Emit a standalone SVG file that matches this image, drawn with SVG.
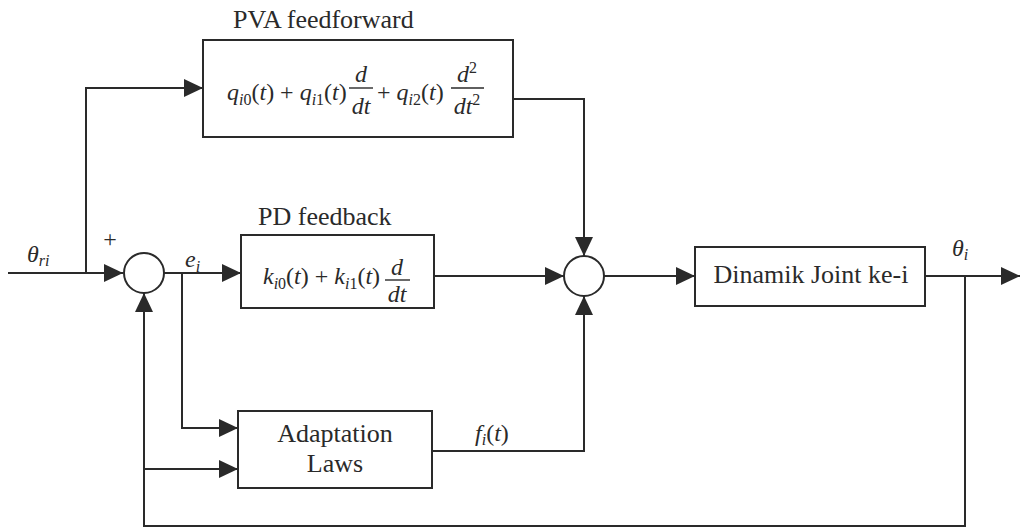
<svg xmlns="http://www.w3.org/2000/svg" width="1021" height="528" viewBox="0 0 1021 528">
<defs>
<style>
.box{fill:#fff;stroke:#2a2a2a;stroke-width:2}
.ln{fill:none;stroke:#2a2a2a;stroke-width:2}
.fr{stroke:#2a2a2a;stroke-width:1.4}
.t{font-family:"Liberation Serif","Times New Roman",serif;fill:#2a2a2a}
.lbl{font-size:26px}
.m{font-size:24px}
.i{font-style:italic}
.s{font-size:16px}
</style>
<marker id="ah" markerUnits="userSpaceOnUse" markerWidth="19" markerHeight="18" refX="19" refY="9" orient="auto">
<path d="M0,0 L19,9 L0,18 z" fill="#2a2a2a"/>
</marker>
</defs>
<rect width="1021" height="528" fill="#fff"/>

<g id="connectors">
<path class="ln" d="M8,273 H123" marker-end="url(#ah)"/>
<path class="ln" d="M86,273 V88 H203" marker-end="url(#ah)"/>
<path class="ln" d="M164,273 H241" marker-end="url(#ah)"/>
<path class="ln" d="M182,273 V428 H238" marker-end="url(#ah)"/>
<path class="ln" d="M144,469 H238" marker-end="url(#ah)"/>
<path class="ln" d="M513,99 H584 V256" marker-end="url(#ah)"/>
<path class="ln" d="M434,276 H564" marker-end="url(#ah)"/>
<path class="ln" d="M432,451 H584 V296" marker-end="url(#ah)"/>
<path class="ln" d="M604,276 H695" marker-end="url(#ah)"/>
<path class="ln" d="M925,276 H1020" marker-end="url(#ah)"/>
<path class="ln" d="M965,276 V526 H144 V293" marker-end="url(#ah)"/>
</g>

<g id="pva">
<rect class="box" x="203" y="40" width="310" height="97"/>
<text class="t lbl" x="233" y="28">PVA feedforward</text>
<text class="t m" x="227" y="100"><tspan class="i">q</tspan><tspan class="s" dy="5"><tspan class="i">i</tspan>0</tspan><tspan dy="-5">(</tspan><tspan class="i">t</tspan>) + <tspan class="i">q</tspan><tspan class="s" dy="5"><tspan class="i">i</tspan>1</tspan><tspan dy="-5">(</tspan><tspan class="i">t</tspan>)</text>
<text class="t m i" x="361" y="82" text-anchor="middle">d</text>
<line class="fr" x1="349" y1="88" x2="373" y2="88"/>
<text class="t m i" x="361" y="114" text-anchor="middle">dt</text>
<text class="t m" x="377" y="100">+ <tspan class="i">q</tspan><tspan class="s" dy="5"><tspan class="i">i</tspan>2</tspan><tspan dy="-5">(</tspan><tspan class="i">t</tspan>)</text>
<text class="t m" x="467" y="82" text-anchor="middle"><tspan class="i">d</tspan><tspan class="s" dy="-9">2</tspan></text>
<line class="fr" x1="451" y1="88" x2="484" y2="88"/>
<text class="t m" x="467" y="114" text-anchor="middle"><tspan class="i">dt</tspan><tspan class="s" dy="-9">2</tspan></text>
</g>

<g id="pd">
<rect class="box" x="241" y="235" width="193" height="73"/>
<text class="t lbl" x="258" y="225">PD feedback</text>
<text class="t m" x="263" y="284"><tspan class="i">k</tspan><tspan class="s" dy="5"><tspan class="i">i</tspan>0</tspan><tspan dy="-5">(</tspan><tspan class="i">t</tspan>) + <tspan class="i">k</tspan><tspan class="s" dy="5"><tspan class="i">i</tspan>1</tspan><tspan dy="-5">(</tspan><tspan class="i">t</tspan>)</text>
<text class="t m i" x="397" y="275" text-anchor="middle">d</text>
<line class="fr" x1="385" y1="280" x2="410" y2="280"/>
<text class="t m i" x="397" y="302" text-anchor="middle">dt</text>
</g>

<g id="sum1">
<circle class="box" cx="144" cy="273" r="20"/>
<text class="t m" x="110" y="247" text-anchor="middle">+</text>
</g>

<g id="sum2">
<circle class="box" cx="584" cy="276" r="20"/>
</g>

<g id="dyn">
<rect class="box" x="695" y="247" width="230" height="59"/>
<text class="t lbl" x="811" y="283" text-anchor="middle">Dinamik Joint ke-i</text>
</g>

<g id="adapt">
<rect class="box" x="238" y="411" width="194" height="77"/>
<text class="t lbl" x="335" y="442" text-anchor="middle">Adaptation</text>
<text class="t lbl" x="335" y="472" text-anchor="middle">Laws</text>
</g>

<g id="labels">
<text class="t m" x="27" y="262"><tspan class="i">θ</tspan><tspan class="s i" dy="4">ri</tspan></text>
<text class="t m" x="185" y="267"><tspan class="i">e</tspan><tspan class="s i" dy="5">i</tspan></text>
<text class="t m" x="952" y="256"><tspan class="i">θ</tspan><tspan class="s i" dy="4">i</tspan></text>
<text class="t m" x="475" y="441"><tspan class="i">f</tspan><tspan class="s i" dy="4">i</tspan><tspan dy="-4">(</tspan><tspan class="i">t</tspan>)</text>
</g>
</svg>
